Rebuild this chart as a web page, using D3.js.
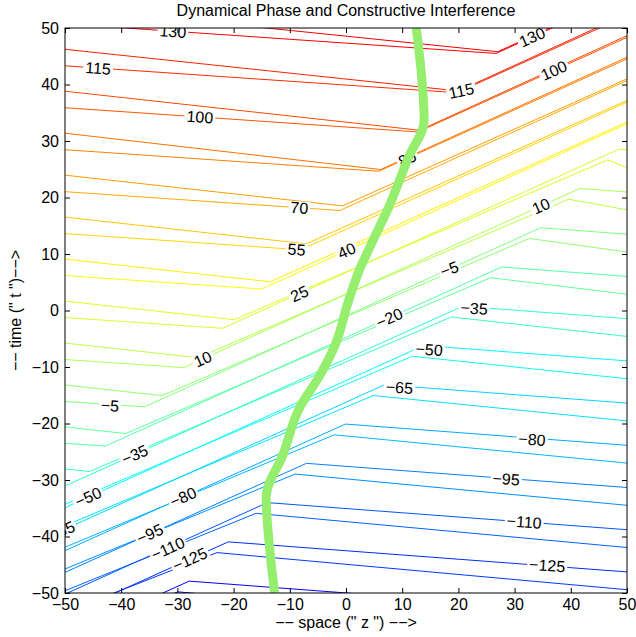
<!DOCTYPE html>
<html>
<head>
<meta charset="utf-8">
<script src="https://cdn.jsdelivr.net/npm/d3@7"></script>
<style>
  body { margin: 0; background: #fff; }
  text { font-family: "Liberation Sans", Arial, Helvetica, sans-serif; }
</style>
</head>
<body>
<div id="chart"></div>
<script>
// contour levels, one per labelled line (130 down to -140, every 15)
var levels = [130, 115, 100, 85, 70, 55, 40, 25, 10, -5, -20, -35, -50, -65, -80, -95, -110, -125, -140];

// labelled contour lines, vertices [z, t]
var mainLines = [
  [[-50, 50.74], [26.7, 45.5], [50, 56.0]],
  [[-50, 43.31], [19.75, 38.55], [50, 52.2]],
  [[-50, 35.89], [12.8, 31.6], [50, 48.34]],
  [[-50, 28.46], [5.85, 24.65], [50, 44.52]],
  [[-50, 21.03], [-1.1, 17.7], [50, 40.7]],
  [[-50, 13.61], [-8.05, 10.75], [50, 36.87]],
  [[-50, 6.18], [-15.0, 3.8], [50, 33.05]],
  [[-50, -1.25], [-21.95, -3.15], [48.55, 28.55], [50, 28.44]],
  [[-50, -8.68], [-28.9, -10.1], [41.6, 21.6], [50, 20.97]],
  [[-50, -16.1], [-35.85, -17.05], [34.65, 14.65], [50, 13.5]],
  [[-50, -23.53], [-42.8, -24.0], [27.7, 7.7], [50, 6.03]],
  [[-50, -30.96], [-49.75, -30.95], [20.75, 0.75], [50, -1.44]],
  [[-50, -34.9], [13.8, -6.2], [50, -8.92]],
  [[-50, -38.7], [6.85, -13.15], [50, -16.39]],
  [[-50, -42.5], [-0.1, -20.1], [50, -23.86]],
  [[-50, -46.35], [-7.05, -27.05], [50, -31.33]],
  [[-50, -50.2], [-14.0, -34.0], [50, -38.8]],
  [[-50, -54.0], [-20.95, -40.95], [50, -46.27]],
  [[-50, -57.8], [-27.9, -47.9], [50, -53.74]]
];

// companion (unlabelled) line that runs next to each labelled one
var sideLines = [
  [[-50, 53.66], [27.0, 45.8], [50, 56.3]],
  [[-50, 46.23], [20.05, 38.85], [50, 52.5]],
  [[-50, 38.81], [13.1, 31.9], [50, 48.64]],
  [[-50, 31.38], [6.15, 24.95], [50, 44.82]],
  [[-50, 23.95], [-0.62, 18.52], [50, 41.0]],
  [[-50, 16.53], [-7.05, 11.8], [50, 37.17]],
  [[-50, 9.10], [-13.48, 5.08], [50, 33.35]],
  [[-50, 1.67], [-19.91, -1.63], [46.55, 26.65], [50, 25.29]],
  [[-50, -5.76], [-26.35, -8.35], [39.6, 19.7], [50, 17.82]],
  [[-50, -13.18], [-32.78, -15.07], [32.65, 12.75], [50, 10.35]],
  [[-50, -20.61], [-39.21, -21.78], [25.7, 5.8], [50, 2.88]],
  [[-50, -28.04], [-45.64, -28.5], [18.75, -1.15], [50, -4.59]],
  [[-50, -34.3], [11.8, -8.1], [50, -12.07]],
  [[-50, -38.1], [4.85, -15.05], [50, -19.54]],
  [[-50, -41.9], [-2.1, -22.0], [50, -27.01]],
  [[-50, -45.75], [-9.05, -28.95], [50, -34.48]],
  [[-50, -49.6], [-16.0, -35.9], [50, -41.95]],
  [[-50, -53.4], [-22.95, -42.85], [50, -49.42]],
  [[-50, -57.2], [-29.9, -49.8], [50, -56.89]]
];

// contour labels: level, position and tilt
var labelLevels = [130, 130, 115, 115, 100, 100, 85, 70, 55, 40, 25, 10, 10, -5, -5, -20,
  -35, -35, -50, -50, -65, -65, -80, -80, -95, -95, -110, -110, -125, -125];
var labelZ = [-30.8, 33.1, -44.1, 20.5, -26.0, 37.0, 10.9, -8.3, -8.8, 0.1, -8.3, -25.5, 34.7, -42.0, 18.4, 7.7,
  -37.6, 22.8, -45.9, 14.8, -50.6, 9.5, -29.0, 33.1, -34.9, 28.5, -31.7, 31.7, -27.8, 35.8];
var labelT = [49.4, 48.4, 42.9, 38.9, 34.26, 42.5, 26.9, 18.2, 10.8, 10.6, 3.0, -8.57, 18.5, -16.8, 7.36, -1.3,
  -25.5, 0.4, -33.0, -6.9, -39.0, -13.6, -33.0, -22.8, -39.5, -29.8, -42.1, -37.4, -44.0, -45.1];
var labelRot = [4, -24, 4, -12, 4, -24, -24, 4, 4, -24, -24, -24, -24, 4, -20, -24,
  -24, 4, -24, 4, -24, 4, -24, 4, -24, 4, -24, 4, -24, 4];

// thick path of constructive interference
var pathZ = [12.5, 13.9, 11.2, 7.6, 4.8, 2.4, 0.3, -1.8, -4.6, -8.3, -11.2, -14.2, -13.6, -12.7];
var pathT = [50, 33.5, 27.3, 18.3, 12.4, 7.2, 1.2, -5.8, -11.4, -17.3, -25.5, -33.0, -42, -50];

var ticks = [-50, -40, -30, -20, -10, 0, 10, 20, 30, 40, 50];

var svgWidth = 636;
var svgHeight = 637;
var margin = { top: 28, right: 9, bottom: 44, left: 65 };
var width = svgWidth - margin.left - margin.right;
var height = svgHeight - margin.top - margin.bottom;

var svg = d3.select("#chart").append("svg")
  .attr("width", svgWidth)
  .attr("height", svgHeight);

var chartGroup = svg.append("g")
  .attr("transform", `translate(${margin.left}, ${margin.top})`);

var xScale = d3.scaleLinear().domain([-50, 50]).range([0, width]);
var yScale = d3.scaleLinear().domain([-50, 50]).range([height, 0]);

// jet colormap over the level range
var jet = d3.scaleLinear()
  .domain([-185, -140, -50, 40, 130, 175])
  .range(["#000080", "#0000ff", "#00ffff", "#ffff00", "#ff0000", "#800000"])
  .clamp(true);

chartGroup.append("clipPath").attr("id", "plotClip")
  .append("rect").attr("width", width).attr("height", height);

var plot = chartGroup.append("g").attr("clip-path", "url(#plotClip)");

var line = d3.line()
  .x(d => xScale(d[0]))
  .y(d => yScale(d[1]));

plot.selectAll(".side")
  .data(sideLines)
  .enter().append("path")
  .attr("class", "side")
  .attr("d", line)
  .attr("fill", "none")
  .attr("stroke", (d, i) => jet(levels[i] + 5))
  .attr("stroke-width", 1);

plot.selectAll(".main")
  .data(mainLines)
  .enter().append("path")
  .attr("class", "main")
  .attr("d", line)
  .attr("fill", "none")
  .attr("stroke", (d, i) => jet(levels[i]))
  .attr("stroke-width", 1);

// labels sit in a gap cut out of the line
var labels = plot.selectAll(".clabel")
  .data(labelLevels)
  .enter().append("g")
  .attr("class", "clabel")
  .attr("transform", (d, i) => `translate(${xScale(labelZ[i])}, ${yScale(labelT[i])}) rotate(${labelRot[i]})`);

labels.append("rect");
labels.append("text")
  .attr("text-anchor", "middle")
  .attr("dy", "0.36em")
  .attr("font-size", 16)
  .attr("fill", "#000")
  .text(d => d3.format("")(d));

labels.each(function() {
  var g = d3.select(this);
  var bb = g.select("text").node().getBBox();
  g.select("rect")
    .attr("x", bb.x - 2).attr("y", bb.y + 2)
    .attr("width", bb.width + 4).attr("height", bb.height - 4)
    .attr("fill", "#fff");
});

plot.append("path")
  .datum(pathZ.map((z, i) => [z, pathT[i]]))
  .attr("d", line.curve(d3.curveMonotoneY))
  .attr("fill", "none")
  .attr("stroke", "#96ee6e")
  .attr("stroke-width", 9)
  .attr("stroke-linejoin", "round");

// axes, ticks pointing inwards on all four sides
var bottomAxis = d3.axisBottom(xScale).tickValues(ticks).tickSizeInner(-5).tickSizeOuter(0).tickPadding(6);
var topAxis = d3.axisTop(xScale).tickValues(ticks).tickSizeInner(-5).tickSizeOuter(0).tickFormat("");
var leftAxis = d3.axisLeft(yScale).tickValues(ticks).tickSizeInner(-5).tickSizeOuter(0).tickPadding(6);
var rightAxis = d3.axisRight(yScale).tickValues(ticks).tickSizeInner(-5).tickSizeOuter(0).tickFormat("");

chartGroup.append("g").attr("transform", `translate(0, ${height})`).call(bottomAxis);
chartGroup.append("g").call(topAxis);
chartGroup.append("g").call(leftAxis);
chartGroup.append("g").attr("transform", `translate(${width}, 0)`).call(rightAxis);

chartGroup.selectAll(".domain").remove();
chartGroup.selectAll(".tick line").attr("stroke", "#000");
chartGroup.selectAll(".tick text")
  .attr("font-size", 16)
  .attr("fill", "#000")
  .style("font-family", "'Liberation Sans', Arial, sans-serif");

chartGroup.append("rect")
  .attr("width", width).attr("height", height)
  .attr("fill", "none").attr("stroke", "#000").attr("stroke-width", 1);

// titles
svg.append("text")
  .attr("x", margin.left + width / 2).attr("y", 16)
  .attr("text-anchor", "middle").attr("font-size", 16)
  .text("Dynamical Phase and Constructive Interference");

svg.append("text")
  .attr("x", margin.left + width / 2).attr("y", 628)
  .attr("text-anchor", "middle").attr("font-size", 16)
  .text('\u2212\u2212 space (" z ") \u2212\u2212>');

svg.append("text")
  .attr("transform", `translate(21, ${margin.top + height / 2}) rotate(-90)`)
  .attr("text-anchor", "middle").attr("font-size", 16)
  .text('\u2212\u2212 time (" t ")\u2212\u2212>');
</script>
</body>
</html>
